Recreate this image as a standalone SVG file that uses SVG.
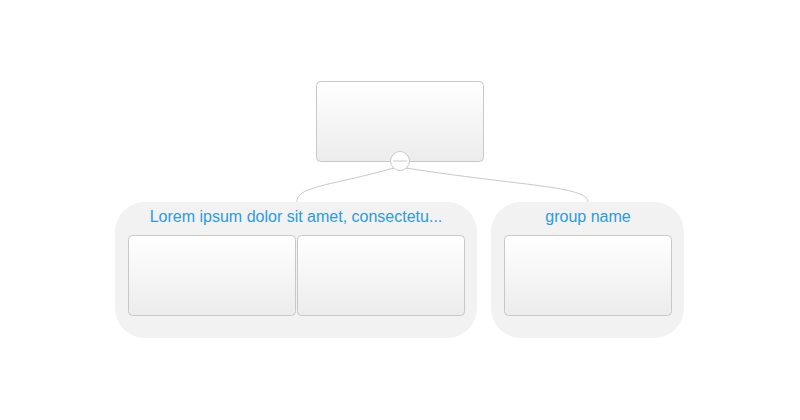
<svg xmlns="http://www.w3.org/2000/svg" width="800" height="420" viewBox="0 0 800 420">
<defs>
<linearGradient id="ng" x1="0" y1="0" x2="0" y2="1">
<stop offset="0" stop-color="#ffffff"/>
<stop offset="1" stop-color="#ececec"/>
</linearGradient>
<style>
.node{fill:url(#ng);stroke:#c8c8c8;stroke-width:1}
.grp{fill:#f2f2f2;stroke:none}
.lbl{font-family:"Liberation Sans",Arial,sans-serif;font-size:16px;fill:#2b9be0;text-anchor:middle}
.conn{fill:none;stroke:#c8c8c8;stroke-width:1}
</style>
</defs>
<rect width="800" height="420" fill="#ffffff"/>
<g id="connectors">
<path class="conn" d="M394,168 C330,186 297,186 297,202"/>
<path class="conn" d="M406,168 C520,186 588,186 588,202"/>
</g>
<g id="root">
<rect class="node" x="316.5" y="81.5" width="167" height="80" rx="4"/>
</g>
<g id="collapse">
<circle cx="400" cy="161" r="9.5" fill="#ffffff" stroke="#c8c8c8"/>
<line x1="393" y1="161" x2="407" y2="161" stroke="#c8c8c8"/>
</g>
<g id="group1">
<rect class="grp" x="115" y="202" width="362" height="136" rx="30"/>
<text class="lbl" x="296" y="222">Lorem ipsum dolor sit amet, consectetu...</text>
</g>
<g id="group2">
<rect class="grp" x="491" y="202" width="193" height="136" rx="30"/>
<text class="lbl" x="588" y="222">group name</text>
</g>
<g id="node1"><rect class="node" x="128.5" y="235.5" width="167" height="80" rx="4"/></g>
<g id="node2"><rect class="node" x="297.5" y="235.5" width="167" height="80" rx="4"/></g>
<g id="node3"><rect class="node" x="504.5" y="235.5" width="167" height="80" rx="4"/></g>
</svg>
